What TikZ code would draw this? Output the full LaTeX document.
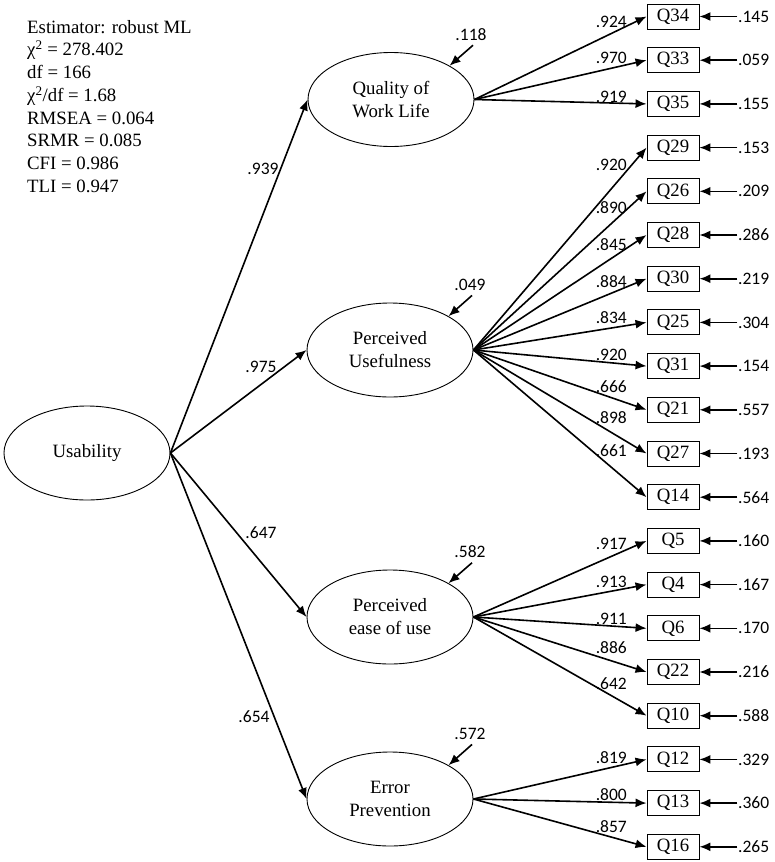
\documentclass[tikz,border=0pt]{standalone}
\usepackage{fontspec}
\setmainfont{Liberation Serif}
\newfontfamily\numfont{Carlito}
\usetikzlibrary{shapes.geometric, arrows.meta, calc, positioning}

\begin{document}
\begin{tikzpicture}[x=1pt, y=-1pt, >={Latex[length=11pt, width=9pt]},
    latent/.style={draw, ellipse, line width=0.9pt, minimum width=166pt, minimum height=94pt,
        inner sep=0pt, align=center, font=\fontsize{18.8}{23}\selectfont},
    item/.style={draw, rectangle, line width=0.9pt, minimum width=52pt, minimum height=25pt,
        inner sep=0pt, font=\fontsize{18.8}{23}\selectfont},
    num/.style={inner sep=0.5pt, font=\numfont\fontsize{17.5}{20}\selectfont},
    link/.style={->, line width=1.6pt}]

    \useasboundingbox (0,0) rectangle (774,862);

    % fit indices
    \node[anchor=north west, inner sep=0pt, align=left, font=\fontsize{18.8}{22.7}\selectfont] (fit) at (27,20)
        {Estimator: robust ML\\ χ\textsuperscript{2} = 278.402\\ df = 166\\ χ\textsuperscript{2}/df = 1.68\\
         RMSEA = 0.064\\ SRMR = 0.085\\ CFI = 0.986\\ TLI = 0.947};

    % latent factors
    \node[latent] (usab) at (87,453) {Usability};
    \node[latent] (qwl) at (391,99.5) {Quality of\\Work Life};
    \node[latent] (pu) at (390,350) {Perceived\\Usefulness};
    \node[latent] (peou) at (390,617) {Perceived\\ease of use};
    \node[latent] (ep) at (390,799) {Error\\Prevention};

    % items
    \foreach \q [count=\i from 0] in {34,33,35,29,26,28,30,25,31,21,27,14,5,4,6,22,10,12,13,16}
        \node[item] (q\q) at (673, 16.5+43.7*\i) {Q\q};

    % Connections: second order
    \draw[link] (usab.east) -- (qwl.west);
    \draw[link] (usab.east) -- (pu.west);
    \draw[link] (usab.east) -- (peou.west);
    \draw[link] (usab.east) -- (ep.west);
    \node[num] (l1) at (263,169) {.939};
    \node[num] (l2) at (261,367) {.975};
    \node[num] (l3) at (261,533) {.647};
    \node[num] (l4) at (254,717) {.654};

    % disturbances
    \foreach \f/\d in {qwl/.118, pu/.049, peou/.582, ep/.572} {
        \node[num] (d\f) at ([xshift=80pt, yshift=65pt]\f.center) {\d};
        \draw[link] ([xshift=2pt, yshift=-4pt]d\f.south) -- (\f.30);
    }

    % Connections: factors to items
    \foreach \f/\q/\v/\dy in {qwl/34/.924/-5.5, qwl/33/.970/2, qwl/35/.919/7,
        pu/29/.920/-17, pu/26/.890/-16, pu/28/.845/-10, pu/30/.884/-3, pu/25/.834/5,
        pu/31/.920/11, pu/21/.666/23, pu/27/.898/36, pu/14/.661/47,
        peou/5/.917/-2.5, peou/4/.913/3, peou/6/.911/9, peou/22/.886/24, peou/10/.642/32,
        ep/12/.819/2, ep/13/.800/9, ep/16/.857/20} {
        \draw[link] (\f.east) -- (q\q.west);
        \node[num, anchor=east] (l\q) at ([xshift=-19pt, yshift=\dy*1pt]q\q.west) {\v};
    }

    % item errors
    \foreach \q/\e in {34/.145, 33/.059, 35/.155, 29/.153, 26/.209, 28/.286, 30/.219, 25/.304,
        31/.154, 21/.557, 27/.193, 14/.564, 5/.160, 4/.167, 6/.170, 22/.216, 10/.588,
        12/.329, 13/.360, 16/.265} {
        \node[num, anchor=west] (e\q) at ([xshift=38pt]q\q.east) {\e};
        \draw[link] (e\q.west) -- (q\q.east);
    }

\end{tikzpicture}
\end{document}
